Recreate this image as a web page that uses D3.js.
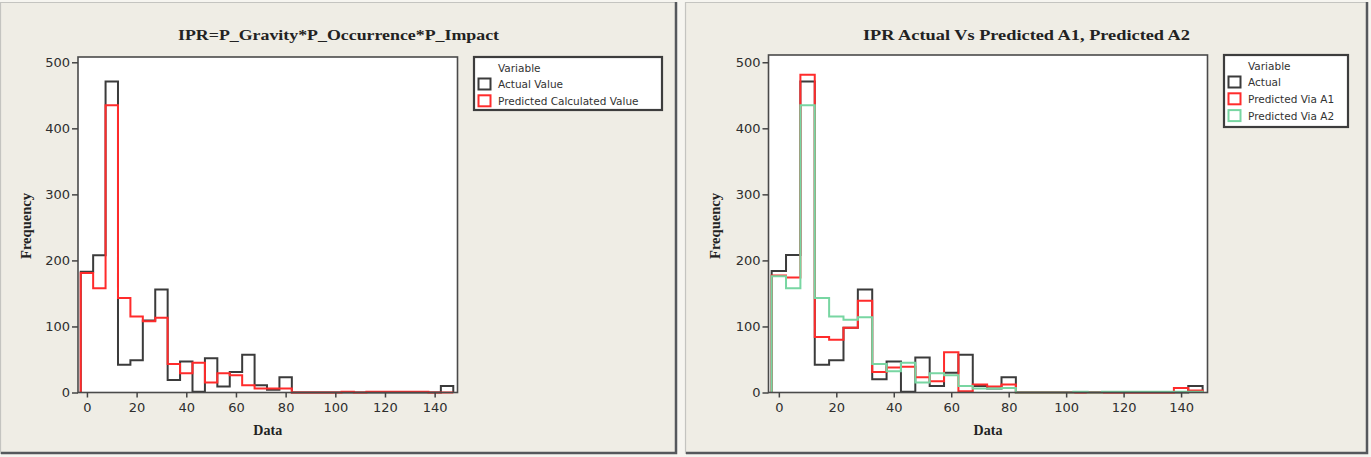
<!DOCTYPE html>
<html>
<head>
<meta charset="utf-8">
<script src="https://cdn.jsdelivr.net/npm/d3@7"></script>
<style>
  body { margin: 0; background: #f6f5f0; }
  svg { display: block; }
</style>
</head>
<body>
<svg id="contenedor"></svg>
<script>
// centros de las clases del histograma (ancho de clase 5)
let clases = [0, 5, 10, 15, 20, 25, 30, 35, 40, 45, 50, 55, 60, 65, 70, 75,
  80, 85, 90, 95, 100, 105, 110, 115, 120, 125, 130, 135, 140, 145];
let anchoClase = 5;

// etiquetas de los ejes
let ticksX = [0, 20, 40, 60, 80, 100, 120, 140];
let ticksY = [0, 100, 200, 300, 400, 500];

// grafico izquierdo: IPR=P_Gravity*P_Occurrence*P_Impact
let actualValue = [183, 208, 471, 42, 49, 109, 156, 19, 47, 1, 52, 9, 31, 57, 11, 4,
  23, 0, 0, 0, 0, 0, 0, 0, 0, 0, 0, 0, 0, 10];
let predictedCalculatedValue = [181, 158, 435, 143, 115, 108, 113, 43, 29, 45, 15, 29, 26, 11, 6, 6,
  6, 0, 0, 0, 0, 1, 0, 1, 1, 1, 1, 1, 0, 0];

// grafico derecho: IPR Actual Vs Predicted A1, Predicted A2
let actual = [184, 208, 471, 42, 49, 98, 156, 20, 47, 1, 53, 10, 30, 57, 10, 6,
  23, 0, 0, 0, 0, 0, 0, 0, 0, 0, 0, 0, 0, 10];
let predictedViaA1 = [177, 174, 481, 84, 80, 98, 139, 31, 38, 39, 23, 17, 61, 2, 12, 9,
  12, 0, 0, 0, 0, 0, 0, 0, 0, 0, 0, 0, 7, 3];
let predictedViaA2 = [176, 158, 435, 143, 115, 110, 114, 43, 32, 45, 15, 29, 26, 10, 6, 6,
  7, 0, 0, 0, 0, 1, 0, 1, 1, 1, 1, 1, 1, 1];

let colorActual = "#3b3b3b";
let colorRojo = "#ff2b2b";
let colorVerde = "#78d6a2";

// configuracion de cada panel
function getPaneles() {
  return [
    {
      panel: { x: 0, y: 2, w: 677, h: 452 },
      frame: { left: 78, right: 457.5, top: 57, bottom: 392.5 },
      yMax: 508,
      titulo: "IPR=P_Gravity*P_Occurrence*P_Impact",
      largoTitulo: 321,
      frecuenciaX: 26,
      leyenda: { x: 474, y: 57, w: 188, h: 53 },
      series: [
        { nombre: "Actual Value", valores: actualValue, color: colorActual },
        { nombre: "Predicted Calculated Value", valores: predictedCalculatedValue, color: colorRojo },
      ],
    },
    {
      panel: { x: 685, y: 2, w: 683, h: 452 },
      frame: { left: 768.5, right: 1207.5, top: 55, bottom: 392.5 },
      yMax: 511,
      titulo: "IPR Actual Vs Predicted A1, Predicted A2",
      largoTitulo: 327,
      frecuenciaX: 715,
      leyenda: { x: 1224, y: 55, w: 124, h: 72 },
      series: [
        { nombre: "Actual", valores: actual, color: colorActual },
        { nombre: "Predicted Via A1", valores: predictedViaA1, color: colorRojo },
        { nombre: "Predicted Via A2", valores: predictedViaA2, color: colorVerde },
      ],
    },
  ];
} // fin getPaneles

// escalas de un panel
function getEscalas(cfg) {
  let { frame, yMax } = cfg;
  let xScale = d3.scaleLinear().domain([-3.6, 149.2]).range([frame.left, frame.right]);
  let yScale = d3.scaleLinear().domain([0, yMax]).range([frame.bottom, frame.top]);
  return { xScale, yScale };
} // fin getEscalas

// puntos del contorno escalonado de un histograma
function getEscalones(valores) {
  let puntos = [{ x: clases[0] - anchoClase / 2, y: 0 }];
  clases.forEach((c, i) => {
    puntos.push({ x: c - anchoClase / 2, y: valores[i] });
    puntos.push({ x: c + anchoClase / 2, y: valores[i] });
  });
  puntos.push({ x: clases[clases.length - 1] + anchoClase / 2, y: 0 });
  return puntos;
} // fin getEscalones

function dibujarPanel(svg, cfg) {
  let { panel, frame, series, leyenda } = cfg;
  let { xScale, yScale } = getEscalas(cfg);
  let g = svg.append("g");

  // fondo del panel con borde
  g.append("rect")
    .attr("x", panel.x + 0.5).attr("y", panel.y + 0.5)
    .attr("width", panel.w - 1).attr("height", panel.h - 1)
    .attr("fill", "#efede5");
  g.append("path")
    .attr("d", `M${panel.x + 0.5},${panel.y + panel.h}V${panel.y + 0.5}H${panel.x + panel.w}`)
    .attr("fill", "none").attr("stroke", "#c4c4c0").attr("stroke-width", 1.2);
  g.append("path")
    .attr("d", `M${panel.x + 1},${panel.y + panel.h - 1}H${panel.x + panel.w - 1}V${panel.y}`)
    .attr("fill", "none").attr("stroke", "#55585c").attr("stroke-width", 2.5);

  // area de datos
  g.append("rect")
    .attr("x", frame.left).attr("y", frame.top)
    .attr("width", frame.right - frame.left).attr("height", frame.bottom - frame.top)
    .attr("fill", "#ffffff");

  // histogramas como contorno
  let linea = d3.line().x((d) => xScale(d.x)).y((d) => yScale(d.y));
  series.forEach((s) => {
    g.append("path")
      .attr("d", linea(getEscalones(s.valores)))
      .attr("fill", "none")
      .attr("stroke", s.color)
      .attr("stroke-width", 2)
      .attr("stroke-linejoin", "miter");
  });

  // marco
  g.append("rect")
    .attr("x", frame.left).attr("y", frame.top)
    .attr("width", frame.right - frame.left).attr("height", frame.bottom - frame.top)
    .attr("fill", "none").attr("stroke", "#4a4a4a").attr("stroke-width", 1.6);

  // ejes
  let ejeX = g.append("g")
    .attr("transform", `translate(0,${frame.bottom})`)
    .call(d3.axisBottom(xScale).tickValues(ticksX).tickSize(5).tickPadding(5).tickSizeOuter(0));
  let ejeY = g.append("g")
    .attr("transform", `translate(${frame.left},0)`)
    .call(d3.axisLeft(yScale).tickValues(ticksY).tickSize(6).tickPadding(2).tickSizeOuter(0));
  [ejeX, ejeY].forEach((e) => {
    e.select(".domain").remove();
    e.selectAll("line").attr("stroke", "#444").attr("stroke-width", 1.5);
    e.selectAll("text")
      .attr("fill", "#2e2e2e")
      .style("font-family", "'DejaVu Sans', sans-serif")
      .style("font-size", "13px");
  });

  // titulo
  let centro = panel.x + panel.w / 2;
  g.append("text")
    .attr("x", centro).attr("y", 40)
    .attr("text-anchor", "middle")
    .attr("textLength", cfg.largoTitulo)
    .attr("lengthAdjust", "spacingAndGlyphs")
    .style("font-family", "'Liberation Serif', serif")
    .style("font-weight", "bold")
    .style("font-size", "15px")
    .attr("fill", "#222")
    .text(cfg.titulo);

  // nombres de ejes
  g.append("text")
    .attr("x", (frame.left + frame.right) / 2).attr("y", 435)
    .attr("text-anchor", "middle")
    .style("font-family", "'Liberation Serif', serif")
    .style("font-weight", "bold")
    .style("font-size", "14px")
    .attr("fill", "#222")
    .text("Data");
  g.append("text")
    .attr("transform", `translate(${cfg.frecuenciaX + 5},226) rotate(-90)`)
    .attr("text-anchor", "middle")
    .attr("textLength", 66)
    .attr("lengthAdjust", "spacingAndGlyphs")
    .style("font-family", "'Liberation Serif', serif")
    .style("font-weight", "bold")
    .style("font-size", "14px")
    .attr("fill", "#222")
    .text("Frequency");

  // leyenda
  let ley = g.append("g");
  ley.append("rect")
    .attr("x", leyenda.x).attr("y", leyenda.y)
    .attr("width", leyenda.w).attr("height", leyenda.h)
    .attr("fill", "#ffffff").attr("stroke", "#3d3d3d").attr("stroke-width", 2.2);
  let textoX = leyenda.x + 24;
  let fuente = (t) => t.style("font-family", "'DejaVu Sans', sans-serif")
    .style("font-size", "10.5px").attr("fill", "#333");
  ley.append("text")
    .attr("x", textoX).attr("y", leyenda.y + 14.5)
    .call(fuente).text("Variable");
  series.forEach((s, i) => {
    let yc = leyenda.y + 27 + i * 16.8;
    ley.append("rect")
      .attr("x", leyenda.x + 4.5).attr("y", yc - 5.5)
      .attr("width", 12).attr("height", 11)
      .attr("fill", "#fff").attr("stroke", s.color).attr("stroke-width", 2);
    ley.append("text")
      .attr("x", textoX).attr("y", yc + 4)
      .call(fuente).text(s.nombre);
  });
} // fin dibujarPanel

function dibujarChart() {
  let svg = d3.select("#contenedor").attr("width", 1371).attr("height", 457);
  getPaneles().forEach((cfg) => dibujarPanel(svg, cfg));
} // fin dibujarChart

dibujarChart();
</script>
</body>
</html>
